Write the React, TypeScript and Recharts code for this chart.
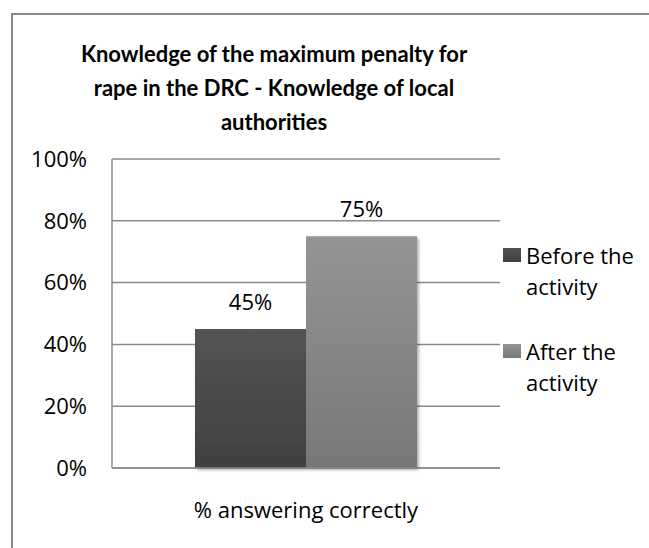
import React from 'react';
import { BarChart, Bar, XAxis, YAxis, CartesianGrid, LabelList } from 'recharts';

const categories = ['% answering correctly'];
const beforeValues = [45];
const afterValues = [75];
const yTicks = [0, 20, 40, 60, 80, 100];
const seriesNames = ['Before the activity', 'After the activity'];
const titleLines = ['Knowledge of the maximum penalty for', 'rape in the DRC - Knowledge of local', 'authorities'];

const data = categories.map((c, i) => ({ name: c, before: beforeValues[i], after: afterValues[i] }));

const FONT = '"Open Sans", sans-serif';
const TITLE_FONT = 'Lato, "Open Sans", sans-serif';
const pct = (v: number | string) => `${v}%`;

export default function App() {
  return (
    <div style={{ position: 'fixed', left: 0, top: 0, width: 649, height: 548, overflow: 'hidden', background: '#fff', fontFamily: FONT }}>
      <div style={{ position: 'absolute', left: 11, top: 13, width: 700, height: 600, borderLeft: '2px solid #888', borderTop: '2px solid #888' }} />
      <div style={{ position: 'absolute', left: 54, top: 37, width: 440, textAlign: 'center', fontFamily: TITLE_FONT, fontWeight: 700, fontSize: 22, lineHeight: '34px', color: '#000' }}>
        {titleLines.map((l, i) => (<div key={i}>{l}</div>))}
      </div>
      <div style={{ position: 'absolute', left: 0, top: 0 }}>
        <BarChart width={649} height={548} data={data} margin={{ top: 159, right: 149, bottom: 50, left: 0 }} barGap={0} barSize={111}>
          <defs>
            <linearGradient id="gDark" x1="0" y1="0" x2="0" y2="1">
              <stop offset="0%" stopColor="#545454" />
              <stop offset="100%" stopColor="#404040" />
            </linearGradient>
            <linearGradient id="gLight" x1="0" y1="0" x2="0" y2="1">
              <stop offset="0%" stopColor="#959595" />
              <stop offset="100%" stopColor="#777777" />
            </linearGradient>
            <filter id="shadow" x="-10%" y="-10%" width="130%" height="130%">
              <feDropShadow dx="2" dy="2" stdDeviation="1.5" floodColor="#000" floodOpacity="0.3" />
            </filter>
          </defs>
          <CartesianGrid vertical={false} stroke="#8a8a8a" strokeWidth={1.5} />
          <XAxis dataKey="name" height={30} tickLine={false} tickSize={0} tickMargin={34} axisLine={{ stroke: '#8a8a8a', strokeWidth: 1.5 }} tick={{ fill: '#000', fontSize: 22, fontFamily: FONT }} />
          <YAxis width={112} domain={[0, 100]} ticks={yTicks} tickFormatter={pct} tickLine={false} tickSize={0} tickMargin={25} axisLine={{ stroke: '#8a8a8a', strokeWidth: 1.5 }} tick={{ fill: '#000', fontSize: 22, fontFamily: FONT }} />
          <Bar dataKey="before" name={seriesNames[0]} fill="url(#gDark)" filter="url(#shadow)" isAnimationActive={false}>
            <LabelList dataKey="before" position="top" offset={19} formatter={pct} fill="#000" fontSize={22} fontFamily={FONT} />
          </Bar>
          <Bar dataKey="after" name={seriesNames[1]} fill="url(#gLight)" filter="url(#shadow)" isAnimationActive={false}>
            <LabelList dataKey="after" position="top" offset={19} formatter={pct} fill="#000" fontSize={22} fontFamily={FONT} />
          </Bar>
        </BarChart>
      </div>
      {seriesNames.map((n, i) => (
        <div key={n} style={{ position: 'absolute', left: 503, top: i === 0 ? 240 : 336, width: 140, fontSize: 22, lineHeight: '31px', color: '#000' }}>
          <div style={{ position: 'absolute', left: 0, top: 8, width: 18, height: 14, background: i === 0 ? 'linear-gradient(#545454, #404040)' : 'linear-gradient(#959595, #777777)' }} />
          <div style={{ marginLeft: 23, width: 115 }}>{n}</div>
        </div>
      ))}
    </div>
  );
}
